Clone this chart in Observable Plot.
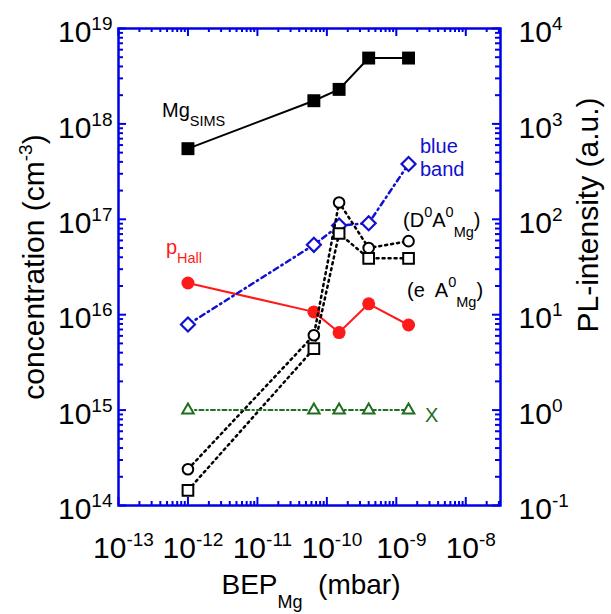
<!DOCTYPE html>
<html><head><meta charset="utf-8">
<script src="https://cdn.jsdelivr.net/npm/d3@7"></script>
<script src="https://cdn.jsdelivr.net/npm/@observablehq/plot@0.6"></script>
<style>
body{margin:0;background:#fff;}
#chart{width:611px;height:614px;}
</style>
</head><body><div id="chart"></div>
<script>
// ---- data ----
const bep      = [1e-12, 6.5e-11, 1.5e-10, 4e-10, 1.5e-9];       // BEP_Mg (mbar)
const mgSims   = [5.5e17, 1.75e18, 2.3e18, 4.9e18, 4.9e18];      // cm^-3
const pHall    = [2.15e16, 1.07e16, 6.5e15, 1.3e16, 7.8e15];     // cm^-3
const blueBand = [7.9, 54, 86, 91, 380];                         // PL a.u.
const d0a0     = [0.24, 6.1, 150, 50, 59];                       // PL a.u.
const eA0      = [0.144, 4.4, 71, 39, 39];                       // PL a.u.
const xBand    = [1, 1, 1, 1, 1];                                // PL a.u.
const plFactor = 1e15; // right axis (PL) = left axis / 1e15

const xMajor = [1e-13, 1e-12, 1e-11, 1e-10, 1e-9, 1e-8];
const yMajor = [1e14, 1e15, 1e16, 1e17, 1e18, 1e19];
const xDomain = [1e-13, 10 ** -7.5];
const yDomain = [1e14, 1e19];

const notes = [
  {x: 4.3e-13, y: 1.17e18, color: "#000", parts: [["Mg","n"],["SIMS","sub"]]},
  {x: 4.9e-13, y: 4.28e16, color: "#ff1a1a", parts: [["p","n"],["Hall","sub"]]},
  {x: 2.23e-9, y: 4.9e17, color: "#1010d0", parts: [["blue","n"]]},
  {x: 2.23e-9, y: 2.8e17, color: "#1010d0", parts: [["band","n"]]},
  {x: 1.27e-9, y: 8.2e16, color: "#000", parts: [["(D","n"],["0","sup"],["A","n"],["0","sup"],["Mg","sub"],[")","n"]]},
  {x: 1.45e-9, y: 1.51e16, color: "#000", parts: [["(e  A","n"],["0","sup"],["Mg","sub"],[")","n"]]},
  {x: 2.63e-9, y: 7.4e14, color: "#1f6f1f", parts: [["X","n"]]}
];

const rows = bep.map((b, i) => ({
  bep: b, mg: mgSims[i], hall: pHall[i],
  blue: blueBand[i] * plFactor, d0: d0a0[i] * plFactor, ea: eA0[i] * plFactor, xb: xBand[i] * plFactor
}));

const FONT = "'Liberation Sans', Arial, Helvetica, sans-serif";
const AX = "#0000e6";
const W = 611, H = 614, mT = 28, mR = 111, mB = 109, mL = 118;
const innerW = W - mL - mR, innerH = H - mT - mB;

const decadesX = d3.range(-13, -7);
const xMinor = decadesX.flatMap(e => d3.range(2, 10).map(m => m * 10 ** e)).filter(v => v <= xDomain[1]);
const yMinor = d3.range(14, 19).flatMap(e => d3.range(2, 10).map(m => m * 10 ** e));

const expFmt = off => d => "10^" + (Math.round(Math.log10(d)) - off);

const plot = Plot.plot({
  width: W, height: H,
  marginTop: mT, marginRight: mR, marginBottom: mB, marginLeft: mL,
  style: {fontFamily: FONT, fontSize: "30px", background: "#fff", color: "#000"},
  x: {type: "log", domain: xDomain},
  y: {type: "log", domain: yDomain},
  marks: [
    // inward ticks on all four sides
    Plot.tickX(xMajor, {x: d => d, stroke: AX, strokeWidth: 2, insetTop: innerH - 8}),
    Plot.tickX(xMajor, {x: d => d, stroke: AX, strokeWidth: 2, insetBottom: innerH - 8}),
    Plot.tickX(xMinor, {x: d => d, stroke: AX, strokeWidth: 2, insetTop: innerH - 4}),
    Plot.tickX(xMinor, {x: d => d, stroke: AX, strokeWidth: 2, insetBottom: innerH - 4}),
    Plot.tickY(yMajor, {y: d => d, stroke: AX, strokeWidth: 2, insetRight: innerW - 8}),
    Plot.tickY(yMajor, {y: d => d, stroke: AX, strokeWidth: 2, insetLeft: innerW - 8}),
    Plot.tickY(yMinor, {y: d => d, stroke: AX, strokeWidth: 2, insetRight: innerW - 5}),
    Plot.tickY(yMinor, {y: d => d, stroke: AX, strokeWidth: 2, insetLeft: innerW - 5}),
    Plot.frame({stroke: AX, strokeWidth: 2.5}),
    // axes labels
    Plot.axisX({ticks: xMajor, tickSize: 0, tickPadding: 31, tickFormat: expFmt(0), label: null, dx: 5}),
    Plot.axisY({anchor: "left", ticks: yMajor, tickSize: 0, tickPadding: 6, tickFormat: expFmt(0), label: null, dy: 4}),
    Plot.axisY({anchor: "right", ticks: yMajor, tickSize: 0, tickPadding: 18, tickFormat: expFmt(15), label: null, dy: 4}),
    // series
    Plot.line(rows, {x: "bep", y: "mg", stroke: "#000", strokeWidth: 2}),
    Plot.dot(rows, {x: "bep", y: "mg", symbol: "square", r: 7.3, fill: "#000"}),
    Plot.line(rows, {x: "bep", y: "hall", stroke: "#ff1a1a", strokeWidth: 2}),
    Plot.dot(rows, {x: "bep", y: "hall", symbol: "circle", r: 6.5, fill: "#ff1a1a"}),
    Plot.line(rows, {x: "bep", y: "blue", stroke: "#1010d0", strokeWidth: 2.5, strokeDasharray: "5,4,1.5,4"}),
    Plot.dot(rows, {x: "bep", y: "blue", symbol: "diamond2", r: 6.3, stroke: "#1010d0", strokeWidth: 2.2, fill: "#fff"}),
    Plot.line(rows, {x: "bep", y: "d0", stroke: "#000", strokeWidth: 2.5, strokeDasharray: "2,4"}),
    Plot.line(rows, {x: "bep", y: "ea", stroke: "#000", strokeWidth: 2.5, strokeDasharray: "2,4"}),
    Plot.dot(rows, {x: "bep", y: "d0", symbol: "circle", r: 5.3, stroke: "#000", strokeWidth: 2, fill: "#fff"}),
    Plot.dot(rows, {x: "bep", y: "ea", symbol: "square2", r: 6.8, stroke: "#000", strokeWidth: 2, fill: "#fff"}),
    Plot.line(rows, {x: "bep", y: "xb", stroke: "#1f6f1f", strokeWidth: 2, strokeDasharray: "4,3,1.5,3"}),
    Plot.dot(rows, {x: "bep", y: "xb", symbol: "triangle2", r: 5.5, stroke: "#1f6f1f", strokeWidth: 2, fill: "#fff"})
  ]
});

document.getElementById("chart").appendChild(plot);
const svg = d3.select(plot);

// superscripts in tick labels
svg.selectAll("text").each(function () {
  const t = this.textContent;
  const m = /^10\^(-?\d+)$/.exec(t);
  if (!m) return;
  const sel = d3.select(this);
  sel.text(null);
  sel.append("tspan").text("10");
  sel.append("tspan").attr("dy", "-12").attr("font-size", "19px").text(m[1]);
});

// rich text helper (sub/superscripts)
function rich(g, parts, {main = 19, small = 14, shift = 9} = {}) {
  let cur = 0;
  for (const [s, k] of parts) {
    const target = k === "sup" ? -shift : k === "sub" ? shift : 0;
    g.append("tspan").attr("dy", target - cur).attr("font-size", (k === "n" ? main : small) + "px").text(s);
    cur = target;
  }
}

const sx = plot.scale("x"), sy = plot.scale("y");
for (const n of notes) {
  const t = svg.append("text").attr("x", sx.apply(n.x)).attr("y", sy.apply(n.y))
    .attr("text-anchor", "start")
    .attr("fill", n.color).attr("font-family", FONT).style("white-space", "pre");
  rich(t, n.parts, {main: 20, small: 14.5, shift: n.parts.some(p => p[1] === "sup") ? 10 : 9});
}

// axis titles
const lt = svg.append("text").attr("transform", "translate(44,267) rotate(-90)")
  .attr("text-anchor", "middle").attr("font-family", FONT).attr("fill", "#000");
rich(lt, [["concentration (cm","n"],["-3","sup"],[")","n"]], {main: 30, small: 19, shift: 12});

const rt = svg.append("text").attr("transform", "translate(598,215) rotate(-90)")
  .attr("text-anchor", "middle").attr("font-family", FONT).attr("fill", "#000");
rich(rt, [["PL-intensity (a.u.)","n"]], {main: 30});

const bt = svg.append("text").attr("x", 311).attr("y", 594)
  .attr("text-anchor", "middle").attr("font-family", FONT).attr("fill", "#000").style("white-space", "pre");
rich(bt, [["BEP","n"],["Mg","sub"],["  (mbar)","n"]], {main: 28, small: 18, shift: 14});
</script>
</body></html>
